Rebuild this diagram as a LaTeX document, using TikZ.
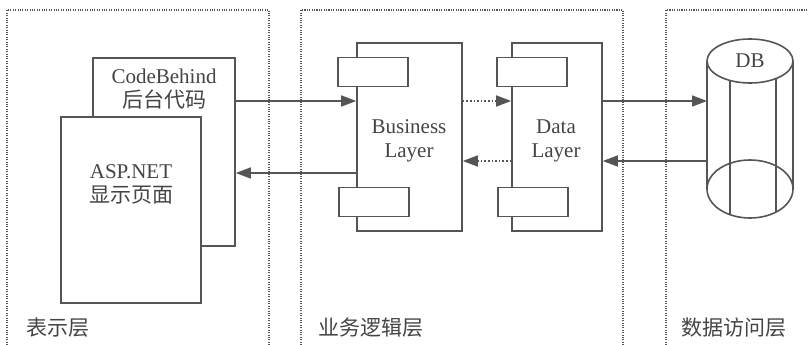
\documentclass[tikz,border=0pt]{standalone}
\usepackage{fontspec}
\setmainfont{Liberation Serif}
\newfontfamily\cjk{Noto Sans CJK SC}
\usetikzlibrary{arrows.meta}
\definecolor{linegray}{HTML}{555555}
\definecolor{textgray}{HTML}{444444}

\begin{document}
\begin{tikzpicture}[x=1pt, y=-1pt, line width=1.6pt, color=linegray, text=textgray,
    font=\fontsize{21}{24}\selectfont,
    box/.style={draw, fill=white, inner sep=0pt},
    part/.style={draw, fill=white, inner sep=0pt, minimum width=70pt, minimum height=29pt},
    panel/.style={line width=1.1pt, dash pattern=on 1.1pt off 1.3pt},
    arr/.style={-{Triangle[length=15pt, width=11pt]}},
    lbl/.style={anchor=west, font=\fontsize{21}{24}\selectfont\cjk}]
  \useasboundingbox (0,0) rectangle (809,345);

  % Layers
  \draw[panel] (7,345) |- (269,10) -- (269,345);
  \draw[panel] (301,345) |- (623,10) -- (623,345);
  \draw[panel] (666,345) |- (815,10);
  \node[lbl] (pres) at (22,328) {表示层};
  \node[lbl] (logic) at (314,328) {业务逻辑层};
  \node[lbl] (access) at (677,328) {数据访问层};

  % Pages
  \node[box, minimum width=142pt, minimum height=188pt] (code) at (164,152) {};
  \node[align=center] (codetxt) at (164,89) {CodeBehind\\{\cjk 后台代码}};
  \node[box, minimum width=140pt, minimum height=186pt] (asp) at (131,210) {};
  \node[align=center] (asptxt) at (131,184) {ASP.NET\\{\cjk 显示页面}};

  % Components
  \node[box, minimum width=105pt, minimum height=188pt] (biz) at (409.5,137) {};
  \node[part] (bizup) at (373,72) {};
  \node[part] (bizdown) at (374,202) {};
  \node[align=center] (biztxt) at (409,141) {Business\\Layer};
  \node[box, minimum width=90pt, minimum height=188pt] (data) at (557,137) {};
  \node[part] (dataup) at (532,72) {};
  \node[part] (datadown) at (533,202) {};
  \node[align=center] (datatxt) at (556,141) {Data\\Layer};

  % Database
  \draw (707,61) -- (707,189);
  \draw (793,61) -- (793,189);
  \draw (750,61) ellipse [x radius=43, y radius=22];
  \draw (750,189) ellipse [x radius=43, y radius=29];
  \draw (730,80.5) -- (730,214.5);
  \draw (776,78.5) -- (776,212);
  \node (db) at (750,61) {DB};
  \coordinate (dbside) at (707,125);

  % Path
  \coordinate (hi) at (0,101);
  \coordinate (lo) at (0,173);
  \coordinate (mlo) at (0,161);
  \draw[arr] (code.east |- hi) -- (biz.west |- hi);
  \draw[arr] (biz.west |- lo) -- (code.east |- lo);
  \draw[arr, dotted] (biz.east |- hi) -- (data.west |- hi);
  \draw[arr, dotted] (data.west |- mlo) -- (biz.east |- mlo);
  \draw[arr] (data.east |- hi) -- (dbside |- hi);
  \draw[arr] (dbside |- mlo) -- (data.east |- mlo);
\end{tikzpicture}
\end{document}
